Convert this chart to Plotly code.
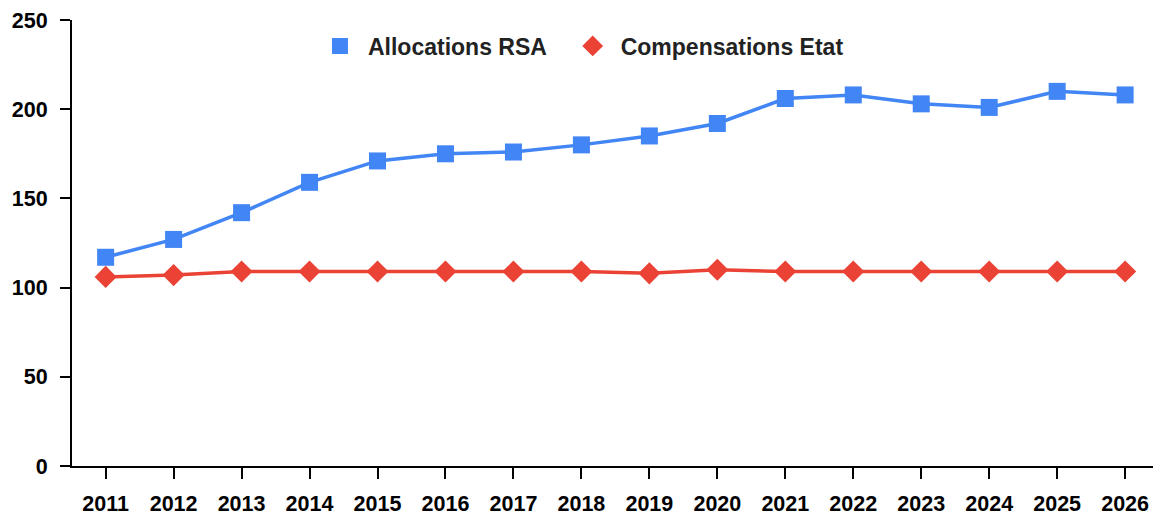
import plotly.graph_objects as go

# Années et séries (indices)
years = [2011, 2012, 2013, 2014, 2015, 2016, 2017, 2018, 2019, 2020,
         2021, 2022, 2023, 2024, 2025, 2026]
allocations_rsa = [117, 127, 142, 159, 171, 175, 176, 180, 185, 192,
                   206, 208, 203, 201, 210, 208]
compensations_etat = [106, 107, 109, 109, 109, 109, 109, 109, 108, 110,
                      109, 109, 109, 109, 109, 109]
y_ticks = [0, 50, 100, 150, 200, 250]

BLUE = "#4285F4"
RED = "#EA4335"
FONT = "Liberation Sans, Arial, sans-serif"

series = [
    ("Allocations RSA", allocations_rsa, BLUE, "square"),
    ("Compensations Etat", compensations_etat, RED, "diamond"),
]

fig = go.Figure()
for i, (name, values, color, symbol) in enumerate(series):
    # courbe tracée
    fig.add_trace(go.Scatter(
        x=years, y=values, name=name, showlegend=False,
        mode="lines+markers",
        line=dict(color=color, width=3.5),
        marker=dict(symbol=symbol, size=17, color=color),
    ))
    # entrée de légende : symbole seul, sans trait
    label = name + ("\u00a0\u00a0" if i < len(series) - 1 else "")
    fig.add_trace(go.Scatter(
        x=[None], y=[None], name=label, mode="markers",
        marker=dict(symbol=symbol, size=17, color=color),
    ))

fig.update_layout(
    width=1153, height=515,
    margin=dict(l=72, r=0, t=20, b=49),
    paper_bgcolor="white", plot_bgcolor="white",
    font=dict(family=FONT, color="black"),
    legend=dict(
        orientation="h", x=0.222, xanchor="left", y=0.9417, yanchor="middle",
        font=dict(family=FONT, size=23, color="#222222", weight="bold"),
        bgcolor="rgba(0,0,0,0)", itemclick=False,
        itemwidth=46,
    ),
    xaxis=dict(
        range=[2010.505, 2026.41],
        tickmode="array", tickvals=years, ticktext=[str(y) for y in years],
        showline=True, linecolor="black", linewidth=2,
        ticks="outside", ticklen=11, tickwidth=2, tickcolor="black",
        showgrid=False, zeroline=False,
        ticklabelstandoff=6,
        tickfont=dict(family=FONT, size=21.5, color="black", weight="bold"),
    ),
    yaxis=dict(
        range=[0, 250],
        tickmode="array", tickvals=y_ticks,
        showline=True, linecolor="black", linewidth=2,
        ticks="outside", ticklen=10, tickwidth=2, tickcolor="black",
        showgrid=False, zeroline=False,
        ticklabelstandoff=8,
        tickfont=dict(family=FONT, size=21.5, color="black", weight="bold"),
    ),
)

fig.write_html("out.html")
